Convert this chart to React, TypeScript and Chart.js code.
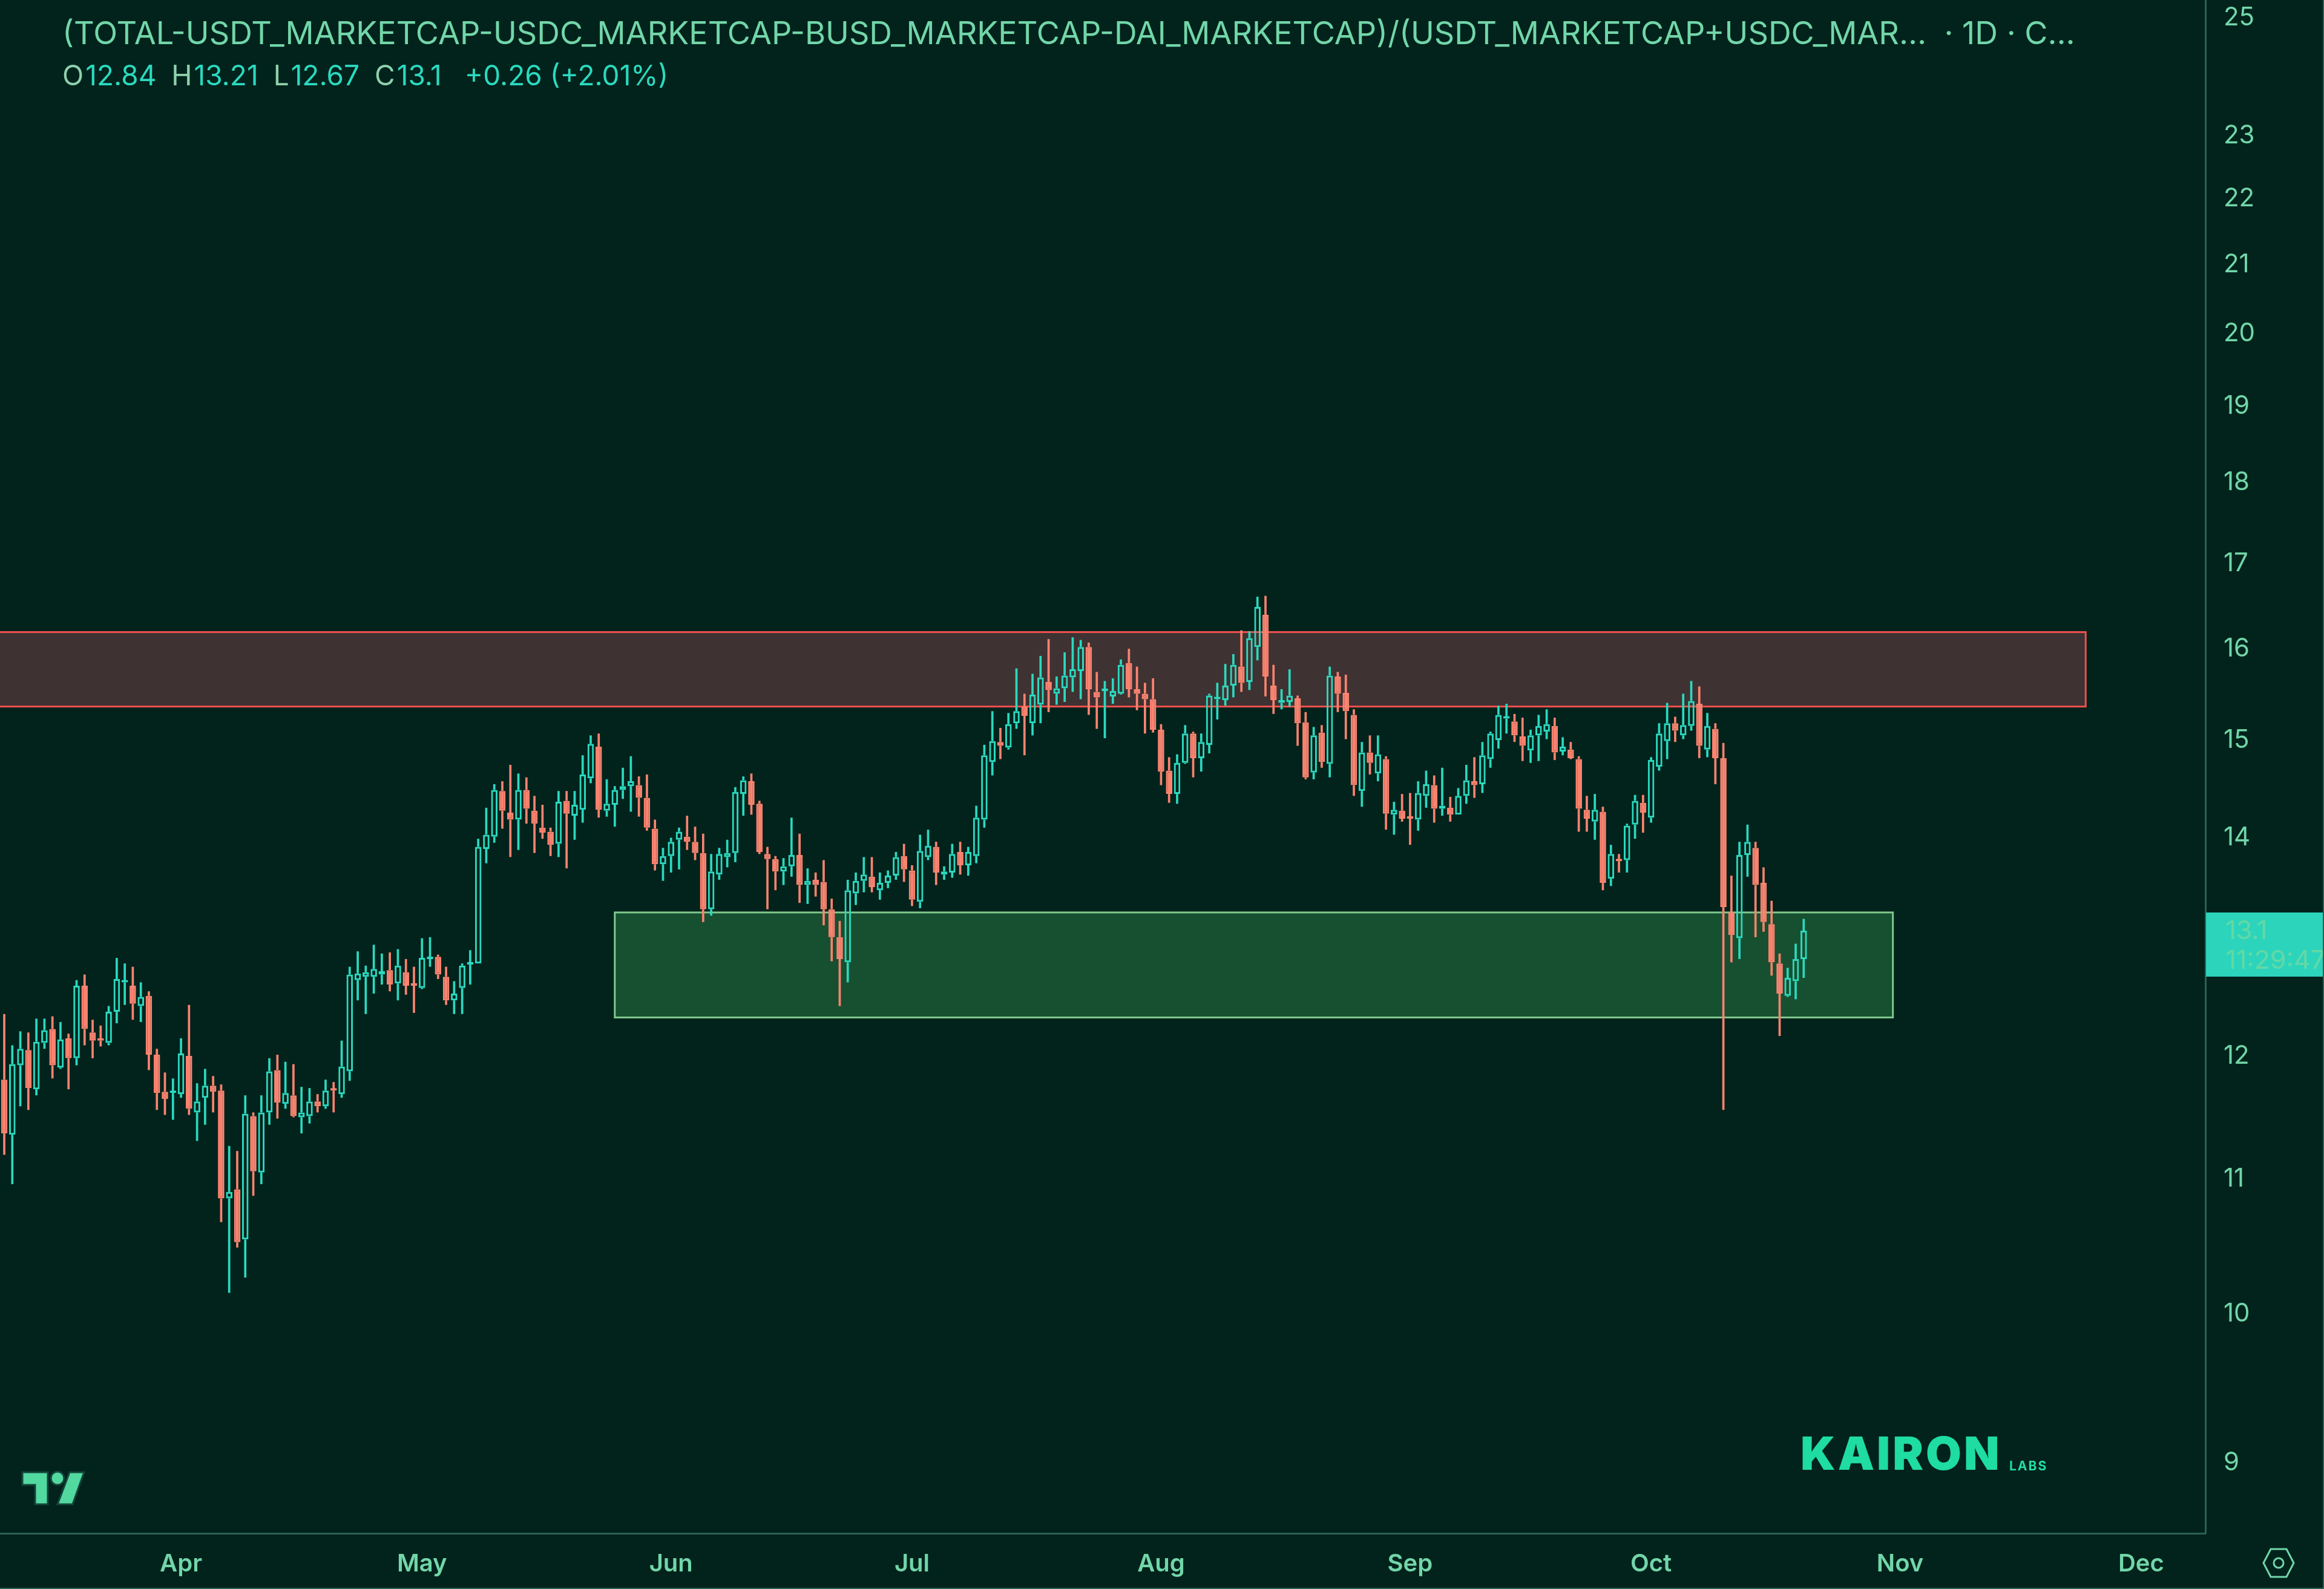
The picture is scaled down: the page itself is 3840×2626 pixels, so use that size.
import { useEffect, useRef } from 'react'
import { Chart, registerables } from 'chart.js'

Chart.register(...registerables)

const OPEN = [
  11.79,11.34,11.91,12.04,11.71,12.10,12.22,11.89,12.14,11.97,
  12.60,12.19,12.14,12.10,12.37,12.63,12.60,12.42,12.51,12.00,
  11.69,11.68,11.67,11.99,11.52,11.64,11.74,11.70,10.84,10.91,
  10.53,11.49,11.04,11.52,11.87,11.59,11.66,11.48,11.49,11.61,
  11.57,11.71,11.67,11.86,12.65,12.68,12.68,12.70,12.74,12.62,
  12.72,12.62,12.58,12.84,12.86,12.68,12.47,12.58,12.79,12.80,
  13.88,14.00,14.46,14.24,14.17,14.47,14.26,14.09,14.05,13.93,
  14.36,14.21,14.27,14.59,14.92,14.26,14.32,14.47,14.51,14.52,
  14.39,14.08,13.73,13.81,13.97,14.00,13.95,13.84,13.30,13.63,
  13.80,13.84,14.43,14.56,14.33,13.83,13.78,13.66,13.71,13.82,
  13.53,13.58,13.56,13.30,13.04,12.81,13.45,13.57,13.61,13.48,
  13.55,13.62,13.81,13.67,13.37,13.80,13.90,13.63,13.65,13.85,
  13.72,13.81,14.17,14.76,14.97,14.91,15.17,15.35,15.17,15.37,
  15.62,15.49,15.55,15.67,15.74,16.01,15.51,15.52,15.46,15.49,
  15.83,15.54,15.49,15.43,15.10,14.67,14.43,14.75,15.06,14.80,
  14.94,15.43,15.42,15.58,15.79,15.62,16.01,16.38,15.58,15.39,
  15.40,15.44,15.18,14.65,15.07,14.74,15.68,15.50,15.26,14.46,
  14.86,14.64,14.79,14.22,14.26,14.19,14.17,14.41,14.52,14.28,
  14.29,14.22,14.41,14.56,14.53,14.79,14.99,15.22,15.19,15.03,
  14.88,15.04,15.08,15.14,14.87,14.89,14.79,14.27,14.15,14.25,
  13.59,13.78,13.77,14.12,14.34,14.19,14.71,14.98,15.17,15.04,
  15.14,15.38,14.89,15.11,14.80,13.27,13.03,13.82,13.89,13.55,
  13.16,12.80,12.51,12.64,12.84,
]
const HIGH = [
  12.35,12.08,12.20,12.19,12.31,12.31,12.33,12.28,12.18,12.65,
  12.70,12.30,12.25,12.42,12.85,12.80,12.77,12.63,12.55,12.05,
  11.85,11.80,12.14,12.43,11.76,11.88,11.82,11.75,11.25,11.21,
  11.66,11.52,11.66,11.97,12.00,11.94,11.92,11.73,11.72,11.67,
  11.79,11.77,12.12,12.77,12.91,12.78,12.97,12.89,12.90,12.93,
  12.84,12.77,13.03,13.04,12.88,12.77,12.64,12.80,12.92,13.98,
  14.29,14.53,14.56,14.73,14.64,14.60,14.41,14.32,14.09,14.46,
  14.46,14.46,14.83,15.04,15.06,14.58,14.51,14.70,14.82,14.61,
  14.63,14.17,13.89,13.99,14.09,14.21,14.10,14.03,13.83,13.89,
  13.97,14.50,14.61,14.64,14.36,13.90,13.81,13.79,14.19,14.03,
  13.69,13.65,13.77,13.40,13.19,13.58,13.65,13.80,13.80,13.65,
  13.67,13.85,13.93,13.72,14.02,14.07,13.95,13.71,13.93,13.95,
  13.90,14.31,14.94,15.30,15.12,15.28,15.77,15.49,15.71,15.91,
  16.10,15.68,15.95,16.12,16.09,16.06,15.73,15.63,15.66,15.87,
  15.99,15.79,15.61,15.66,15.16,14.81,14.84,15.15,15.08,15.06,
  15.49,15.61,15.82,15.93,16.20,16.19,16.59,16.60,15.81,15.54,
  15.76,15.47,15.29,15.13,15.15,15.79,15.73,15.70,15.32,14.97,
  15.04,15.04,14.82,14.35,14.43,14.44,14.56,14.67,14.62,14.70,
  14.40,14.49,14.73,14.81,14.97,15.08,15.36,15.38,15.27,15.23,
  15.10,15.26,15.32,15.23,15.02,14.97,14.82,14.41,14.43,14.30,
  13.92,13.83,14.13,14.42,14.42,14.81,15.17,15.39,15.24,15.49,
  15.63,15.57,15.28,15.17,14.96,13.62,13.95,14.12,13.95,13.70,
  13.38,12.89,12.76,12.98,13.21,
]
const LOW = [
  11.18,10.95,11.57,11.54,11.66,12.05,11.80,11.88,11.71,11.91,
  12.08,11.97,12.07,12.08,12.27,12.43,12.30,12.28,11.87,11.54,
  11.50,11.46,11.64,11.50,11.29,11.42,11.52,10.66,10.14,10.47,
  10.25,10.86,10.95,11.42,11.47,11.55,11.48,11.35,11.43,11.52,
  11.55,11.52,11.64,11.78,12.47,12.35,12.53,12.61,12.55,12.47,
  12.52,12.36,12.57,12.77,12.66,12.43,12.35,12.35,12.61,12.80,
  13.74,13.94,14.08,13.80,13.87,14.13,13.84,13.98,13.81,13.80,
  13.69,13.97,14.14,14.54,14.19,14.20,14.10,14.38,14.25,14.20,
  14.06,13.67,13.57,13.65,13.68,13.87,13.77,13.18,13.24,13.58,
  13.70,13.75,14.21,14.22,13.83,13.30,13.48,13.53,13.61,13.36,
  13.35,13.42,13.15,12.82,12.42,12.63,13.34,13.46,13.46,13.39,
  13.50,13.58,13.56,13.33,13.31,13.77,13.53,13.58,13.60,13.63,
  13.62,13.74,14.09,14.62,14.79,14.89,15.11,14.83,15.04,15.17,
  15.29,15.37,15.40,15.51,15.43,15.26,15.11,15.01,15.38,15.48,
  15.45,15.31,15.06,15.07,14.52,14.34,14.33,14.74,14.60,14.66,
  14.85,15.21,15.36,15.45,15.51,15.53,15.86,15.46,15.27,15.32,
  15.35,14.93,14.58,14.58,14.70,14.60,15.29,15.00,14.41,14.30,
  14.63,14.56,14.07,14.02,14.15,13.92,14.06,14.29,14.14,14.21,
  14.15,14.22,14.33,14.39,14.44,14.70,14.90,15.06,14.97,14.77,
  14.75,14.77,15.00,14.78,14.83,14.79,14.05,14.05,13.97,13.48,
  13.52,13.65,13.65,13.98,14.04,14.14,14.67,14.79,14.97,15.00,
  15.09,14.80,14.81,14.53,11.54,12.81,12.84,13.61,13.04,13.09,
  12.69,12.16,12.50,12.48,12.67,
]
const CLOSE = [
  11.35,11.92,12.05,11.72,12.11,12.21,11.91,12.13,11.97,12.60,
  12.22,12.12,12.12,12.37,12.66,12.64,12.44,12.50,12.00,11.68,
  11.63,11.69,12.01,11.55,11.61,11.74,11.69,10.84,10.89,10.51,
  11.51,11.05,11.52,11.86,11.60,11.68,11.49,11.52,11.61,11.57,
  11.70,11.70,11.90,12.70,12.71,12.72,12.75,12.73,12.61,12.78,
  12.60,12.60,12.85,12.86,12.70,12.47,12.53,12.78,12.80,13.90,
  14.02,14.47,14.26,14.17,14.47,14.28,14.13,14.04,13.92,14.35,
  14.23,14.32,14.63,14.95,14.27,14.33,14.47,14.51,14.56,14.39,
  14.09,13.73,13.81,13.95,14.05,13.95,13.84,13.30,13.66,13.83,
  13.84,14.45,14.57,14.32,13.85,13.78,13.66,13.71,13.82,13.53,
  13.57,13.53,13.30,13.04,12.84,13.48,13.57,13.63,13.51,13.55,
  13.62,13.80,13.68,13.39,13.86,13.91,13.65,13.66,13.83,13.72,
  13.85,14.19,14.83,14.98,14.93,15.16,15.30,15.25,15.48,15.67,
  15.53,15.55,15.69,15.76,16.01,15.54,15.45,15.53,15.52,15.81,
  15.54,15.49,15.43,15.10,14.66,14.43,14.75,15.06,14.80,14.97,
  15.47,15.44,15.58,15.81,15.61,16.11,16.47,15.68,15.42,15.42,
  15.47,15.17,14.60,15.04,14.76,15.69,15.49,15.30,14.52,14.86,
  14.75,14.84,14.23,14.27,14.18,14.18,14.44,14.53,14.28,14.31,
  14.22,14.41,14.57,14.52,14.83,15.06,15.26,15.23,15.04,14.93,
  15.04,15.14,15.16,14.86,14.92,14.80,14.28,14.18,14.27,13.55,
  13.83,13.76,14.11,14.36,14.24,14.78,15.06,15.17,15.09,15.15,
  15.41,14.93,15.14,14.80,13.32,13.06,13.82,13.95,13.53,13.18,
  12.81,12.53,12.67,12.84,13.10,
]

// day offset from the first candle (10 Mar) to the first of each month
const MONTHS = ['Apr', 'May', 'Jun', 'Jul', 'Aug', 'Sep', 'Oct', 'Nov', 'Dec']
const MONTH_STARTS = [22, 52, 83, 113, 144, 175, 205, 236, 266]
const PRICE_TICKS = [9, 10, 11, 12, 14, 15, 16, 17, 18, 19, 20, 21, 22, 23, 25]

const SUPPLY_ZONE = { from: -5, to: 259.1, low: 15.35, high: 16.18 }
const DEMAND_ZONE = { from: 76, to: 235.1, low: 12.32, high: 13.27 }

const TITLE = '(TOTAL-USDT_MARKETCAP-USDC_MARKETCAP-BUSD_MARKETCAP-DAI_MARKETCAP)/(USDT_MARKETCAP+USDC_MAR…  · 1D · C...'
const OHLC = [['O', '12.84'], ['H', '13.21'], ['L', '12.67'], ['C', '13.1']]

const BG = '#01231c'
const UP = '#2bd9bf'
const DOWN = '#fb8370'
const TEXT = '#72d6a9'
const LINE = '#2d5f52'
const FONT = 'Inter, "Noto Sans", sans-serif'

const zonesPlugin = {
  id: 'zones',
  beforeDatasetsDraw(chart: Chart) {
    const { ctx, scales } = chart
    const draw = (z: typeof SUPPLY_ZONE, fill: string, stroke: string) => {
      const x0 = scales.x.getPixelForValue(z.from)
      const x1 = scales.x.getPixelForValue(z.to)
      const y0 = scales.y.getPixelForValue(z.high)
      const y1 = scales.y.getPixelForValue(z.low)
      ctx.save()
      ctx.fillStyle = fill
      ctx.fillRect(x0, y0, x1 - x0, y1 - y0)
      ctx.strokeStyle = stroke
      ctx.lineWidth = 3
      ctx.strokeRect(x0, y0, x1 - x0, y1 - y0)
      ctx.restore()
    }
    draw(SUPPLY_ZONE, '#3f3232', '#f4504e')
    draw(DEMAND_ZONE, '#175030', '#7fc98c')
  },
}

function CandleChart() {
  const canvasRef = useRef<HTMLCanvasElement>(null)

  useEffect(() => {
    if (!canvasRef.current) return

    const colors = OPEN.map((o, i) => (CLOSE[i] >= o ? UP : DOWN))
    const top = OPEN.map((o, i) => Math.max(o, CLOSE[i]))
    const bottom = OPEN.map((o, i) => Math.min(o, CLOSE[i]))
    const wick = { backgroundColor: colors, borderWidth: 0, grouped: false, barPercentage: 0.28, categoryPercentage: 1 }

    const chart = new Chart(canvasRef.current, {
      type: 'bar',
      data: {
        datasets: [
          { ...wick, label: 'upper wick', data: HIGH.map((h, i) => ({ x: i, y: [top[i], h] })) },
          { ...wick, label: 'lower wick', data: LOW.map((l, i) => ({ x: i, y: [l, bottom[i]] })) },
          {
            label: 'body',
            data: OPEN.map((_, i) => ({ x: i, y: [bottom[i], top[i]] })),
            backgroundColor: colors.map(c => (c === UP ? 'transparent' : DOWN)),
            borderColor: colors,
            borderWidth: 3,
            borderSkipped: false,
            minBarLength: 4,
            grouped: false,
            barPercentage: 0.8,
            categoryPercentage: 1,
          },
        ],
      } as any,
      options: {
        responsive: false,
        animation: false,
        devicePixelRatio: 1,
        layout: { padding: 0 },
        plugins: { legend: { display: false }, tooltip: { enabled: false } },
        scales: {
          x: {
            type: 'linear',
            offset: false,
            min: -0.53,
            max: 274,
            grid: { display: false },
            border: { display: true, color: LINE, width: 3 },
            ticks: {
              color: TEXT,
              padding: 19,
              maxRotation: 0,
              autoSkip: false,
              font: { family: FONT, size: 40, weight: 600 },
              callback: (_v, i) => MONTHS[i],
            },
            afterBuildTicks: (s) => { s.ticks = MONTH_STARTS.map(value => ({ value })) },
            afterFit: (s) => { s.height = 92; s.paddingLeft = 0; s.paddingRight = 0 },
          },
          y: {
            type: 'logarithmic',
            position: 'right',
            min: 8.554,
            max: 25.3,
            grid: { display: false },
            border: { display: true, color: LINE, width: 3 },
            ticks: {
              color: TEXT,
              padding: 22,
              labelOffset: 2,
              font: { family: FONT, size: 42 },
              callback: (v) => String(v),
            },
            afterBuildTicks: (s) => { s.ticks = PRICE_TICKS.map(value => ({ value })) },
            afterFit: (s) => { s.width = 196; s.paddingTop = 0; s.paddingBottom = 0 },
          },
        },
      },
      plugins: [zonesPlugin],
    })

    return () => { chart.destroy() }
  }, [])

  return <canvas ref={canvasRef} width={3840} height={2626} style={{ position: 'absolute', left: 0, top: 0 }} />
}

export default function App() {
  return (
    <div style={{ position: 'absolute', left: 0, top: 0, width: 3840, height: 2626, background: BG, overflow: 'hidden', fontFamily: FONT, color: TEXT }}>
      <CandleChart />

      <div style={{ position: 'absolute', left: 103, top: 22, fontSize: 52.2, lineHeight: '64px', whiteSpace: 'pre' }}>{TITLE}</div>
      <div style={{ position: 'absolute', left: 103, top: 96, fontSize: 46, lineHeight: '56px', whiteSpace: 'pre', color: UP }}>
        {OHLC.map(([k, v]) => (
          <span key={k} style={{ marginRight: 25 }}><span style={{ color: '#8fd0ac', marginRight: 3 }}>{k}</span>{v}</span>
        ))}
        <span style={{ marginLeft: 13 }}>+0.26 (+2.01%)</span>
      </div>

      <div style={{ position: 'absolute', left: 3645, top: 1508, width: 193, height: 106, background: '#2cd4bb', overflow: 'hidden', color: '#62d9a6', fontSize: 43, lineHeight: '49px', paddingTop: 4, paddingLeft: 32, boxSizing: 'border-box', whiteSpace: 'pre' }}>
        {'13.1\n11:29:47'}
      </div>

      <svg width={150} height={70} style={{ position: 'absolute', left: 20, top: 2425 }} viewBox="20 2425 150 70">
        <g fill="#52d9a0" stroke="#14453a" strokeWidth={3}>
          <path d="M37 2433H79V2486H58V2454H37Z" />
          <circle cx={95} cy={2443} r={11} />
          <path d="M115 2433H139L120 2486H95Z" />
        </g>
      </svg>

      <div style={{ position: 'absolute', left: 2975, top: 2357, fontSize: 76, lineHeight: '88px', fontWeight: 900, letterSpacing: 4, color: '#1fdca2' }}>KAIRON</div>
      <div style={{ position: 'absolute', left: 3320, top: 2411, fontSize: 21, lineHeight: '24px', fontWeight: 700, letterSpacing: 2, color: '#1fdca2' }}>LABS</div>

      <svg width={60} height={56} style={{ position: 'absolute', left: 3735, top: 2555 }} viewBox="0 0 60 56" fill="none" stroke={TEXT} strokeWidth={3}>
        <path d="M5 28L17 5H43L55 28L43 51H17Z" />
        <circle cx={30} cy={28} r={8} />
      </svg>

      <div style={{ position: 'absolute', left: 3838, top: 0, width: 2, height: 2626, background: LINE }} />
      <div style={{ position: 'absolute', left: 0, top: 2624, width: 3840, height: 2, background: LINE }} />
    </div>
  )
}
